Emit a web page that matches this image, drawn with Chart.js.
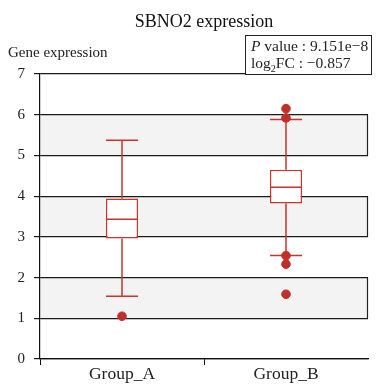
<!DOCTYPE html>
<html>
<head>
<meta charset="utf-8">
<script src="https://cdn.jsdelivr.net/npm/chart.js@4.4.0/dist/chart.umd.min.js"></script>
<style>
  body { margin: 0; background: #fff; }
  #wrap { position: relative; width: 377px; height: 385px; font-family: "Liberation Serif", "DejaVu Serif", serif; color: #222; }
  #title { position: absolute; left: 104px; width: 200px; top: 12px; text-align: center; font-size: 18px; line-height: 18px; color: #111; }
  #ylabel { position: absolute; left: 8px; top: 45px; font-size: 15px; line-height: 15px; }
  #stats { position: absolute; left: 245px; top: 35px; width: 120px; height: 37px; border: 1px solid #222; background: #fff;
           padding-left: 5px; font-size: 15.5px; line-height: 17px; padding-top: 1px; box-sizing: content-box; }
  #stats sub { font-size: 10px; line-height: 0; }
</style>
</head>
<body>
<div id="wrap">
  <canvas id="boxChart" width="377" height="385"></canvas>
  <div id="title">SBNO2 expression</div>
  <div id="ylabel">Gene expression</div>
  <div id="stats"><i>P</i> value : 9.151e−8<br>log<sub>2</sub>FC : −0.857</div>
</div>
<script>
// values
const groups = ['Group_A', 'Group_B'];
const whiskerLow = [1.54, 2.54];
const q1 = [2.96, 3.82];
const median = [3.43, 4.22];
const q3 = [3.94, 4.65];
const whiskerHigh = [5.37, 5.88];
const outliers = [[1.05], [6.15, 5.92, 2.54, 2.33, 1.59]];
const yTicks = [0, 1, 2, 3, 4, 5, 6, 7];
const shadedBands = [[1, 2], [3, 4], [5, 6]];

const red = '#c9352c';
const halfBox = 0.098; // half box width in x2 units

// segments helper: each pair -> two points then a gap
function segments(pairs) {
    const pts = [];
    pairs.forEach(p => {
        pts.push({x: p[0], y: p[1]}, {x: p[2], y: p[3]}, {x: p[0], y: null});
    });
    return pts;
}

const medianSegs = segments(groups.map((g, i) => [i - halfBox, median[i], i + halfBox, median[i]]));
const whiskerSegs = segments(groups.flatMap((g, i) => [
    [i, whiskerLow[i], i, q1[i]],
    [i, q3[i], i, whiskerHigh[i]]
]));
const capSegs = segments(groups.flatMap((g, i) => [
    [i - halfBox, whiskerLow[i], i + halfBox, whiskerLow[i]],
    [i - halfBox, whiskerHigh[i], i + halfBox, whiskerHigh[i]]
]));
const outlierPts = groups.flatMap((g, i) => outliers[i].map(v => ({x: i, y: v})));

// grey bands behind the grid
const bandPlugin = {
    id: 'bands',
    beforeDraw(chart) {
        const c = chart.ctx, area = chart.chartArea, y = chart.scales.y;
        c.save();
        shadedBands.forEach(b => {
            const top = y.getPixelForValue(b[1]);
            const bottom = y.getPixelForValue(b[0]);
            c.fillStyle = '#f3f3f3';
            c.fillRect(area.left, top, area.right - area.left, bottom - top);
            c.strokeStyle = '#222';
            c.lineWidth = 1.2;
            c.beginPath();
            c.moveTo(area.right - 0.5, top);
            c.lineTo(area.right - 0.5, bottom);
            c.stroke();
        });
        c.restore();
    }
};

const lineStyle = {
    type: 'line',
    xAxisID: 'x2',
    borderColor: red,
    borderWidth: 1.5,
    pointRadius: 0,
    spanGaps: false,
    fill: false
};

new Chart(document.getElementById('boxChart'), {
    data: {
        labels: groups,
        datasets: [
            {
                type: 'bar',
                xAxisID: 'x',
                data: groups.map((g, i) => [q1[i], q3[i]]),
                backgroundColor: '#fff',
                borderColor: red,
                borderWidth: 1.5,
                borderSkipped: false,
                grouped: false,
                barPercentage: 0.196,
                categoryPercentage: 1,
                order: 3
            },
            Object.assign({data: whiskerSegs, order: 4}, lineStyle),
            Object.assign({data: capSegs, order: 2}, lineStyle),
            Object.assign({data: medianSegs, order: 1}, lineStyle),
            {
                type: 'scatter',
                xAxisID: 'x2',
                data: outlierPts,
                backgroundColor: '#c0302a',
                borderColor: '#c0302a',
                pointRadius: 4.3,
                order: 0
            }
        ]
    },
    options: {
        responsive: false,
        animation: false,
        layout: { padding: { left: 0, right: 9, top: 74, bottom: 0 } },
        plugins: {
            legend: { display: false },
            tooltip: { enabled: false },
            title: { display: false }
        },
        scales: {
            x: {
                type: 'category',
                offset: true,
                grid: {
                    offset: true,
                    drawOnChartArea: false,
                    tickLength: 6,
                    // no tick mark at the right end
                    tickColor: ctx => ctx.type === 'tick' ? '#111' : 'rgba(0,0,0,0)'
                },
                border: { color: '#111', width: 1.2 },
                ticks: { color: '#222', padding: -1, font: { family: 'Liberation Serif', size: 17.5 } },
                afterFit(scale) { scale.height = 26; }
            },
            x2: {
                type: 'linear',
                display: false,
                min: -0.5,
                max: 1.5
            },
            y: {
                min: 0,
                max: 7,
                afterBuildTicks(scale) { scale.ticks = yTicks.map(v => ({value: v})); },
                grid: { color: '#1a1a1a', lineWidth: 1.2, tickLength: 6 },
                border: { color: '#111', width: 1.2 },
                ticks: { color: '#222', padding: 9, font: { family: 'Liberation Serif', size: 15 } },
                afterFit(scale) { scale.width = 40; }
            }
        }
    },
    plugins: [bandPlugin]
});
</script>
</body>
</html>
